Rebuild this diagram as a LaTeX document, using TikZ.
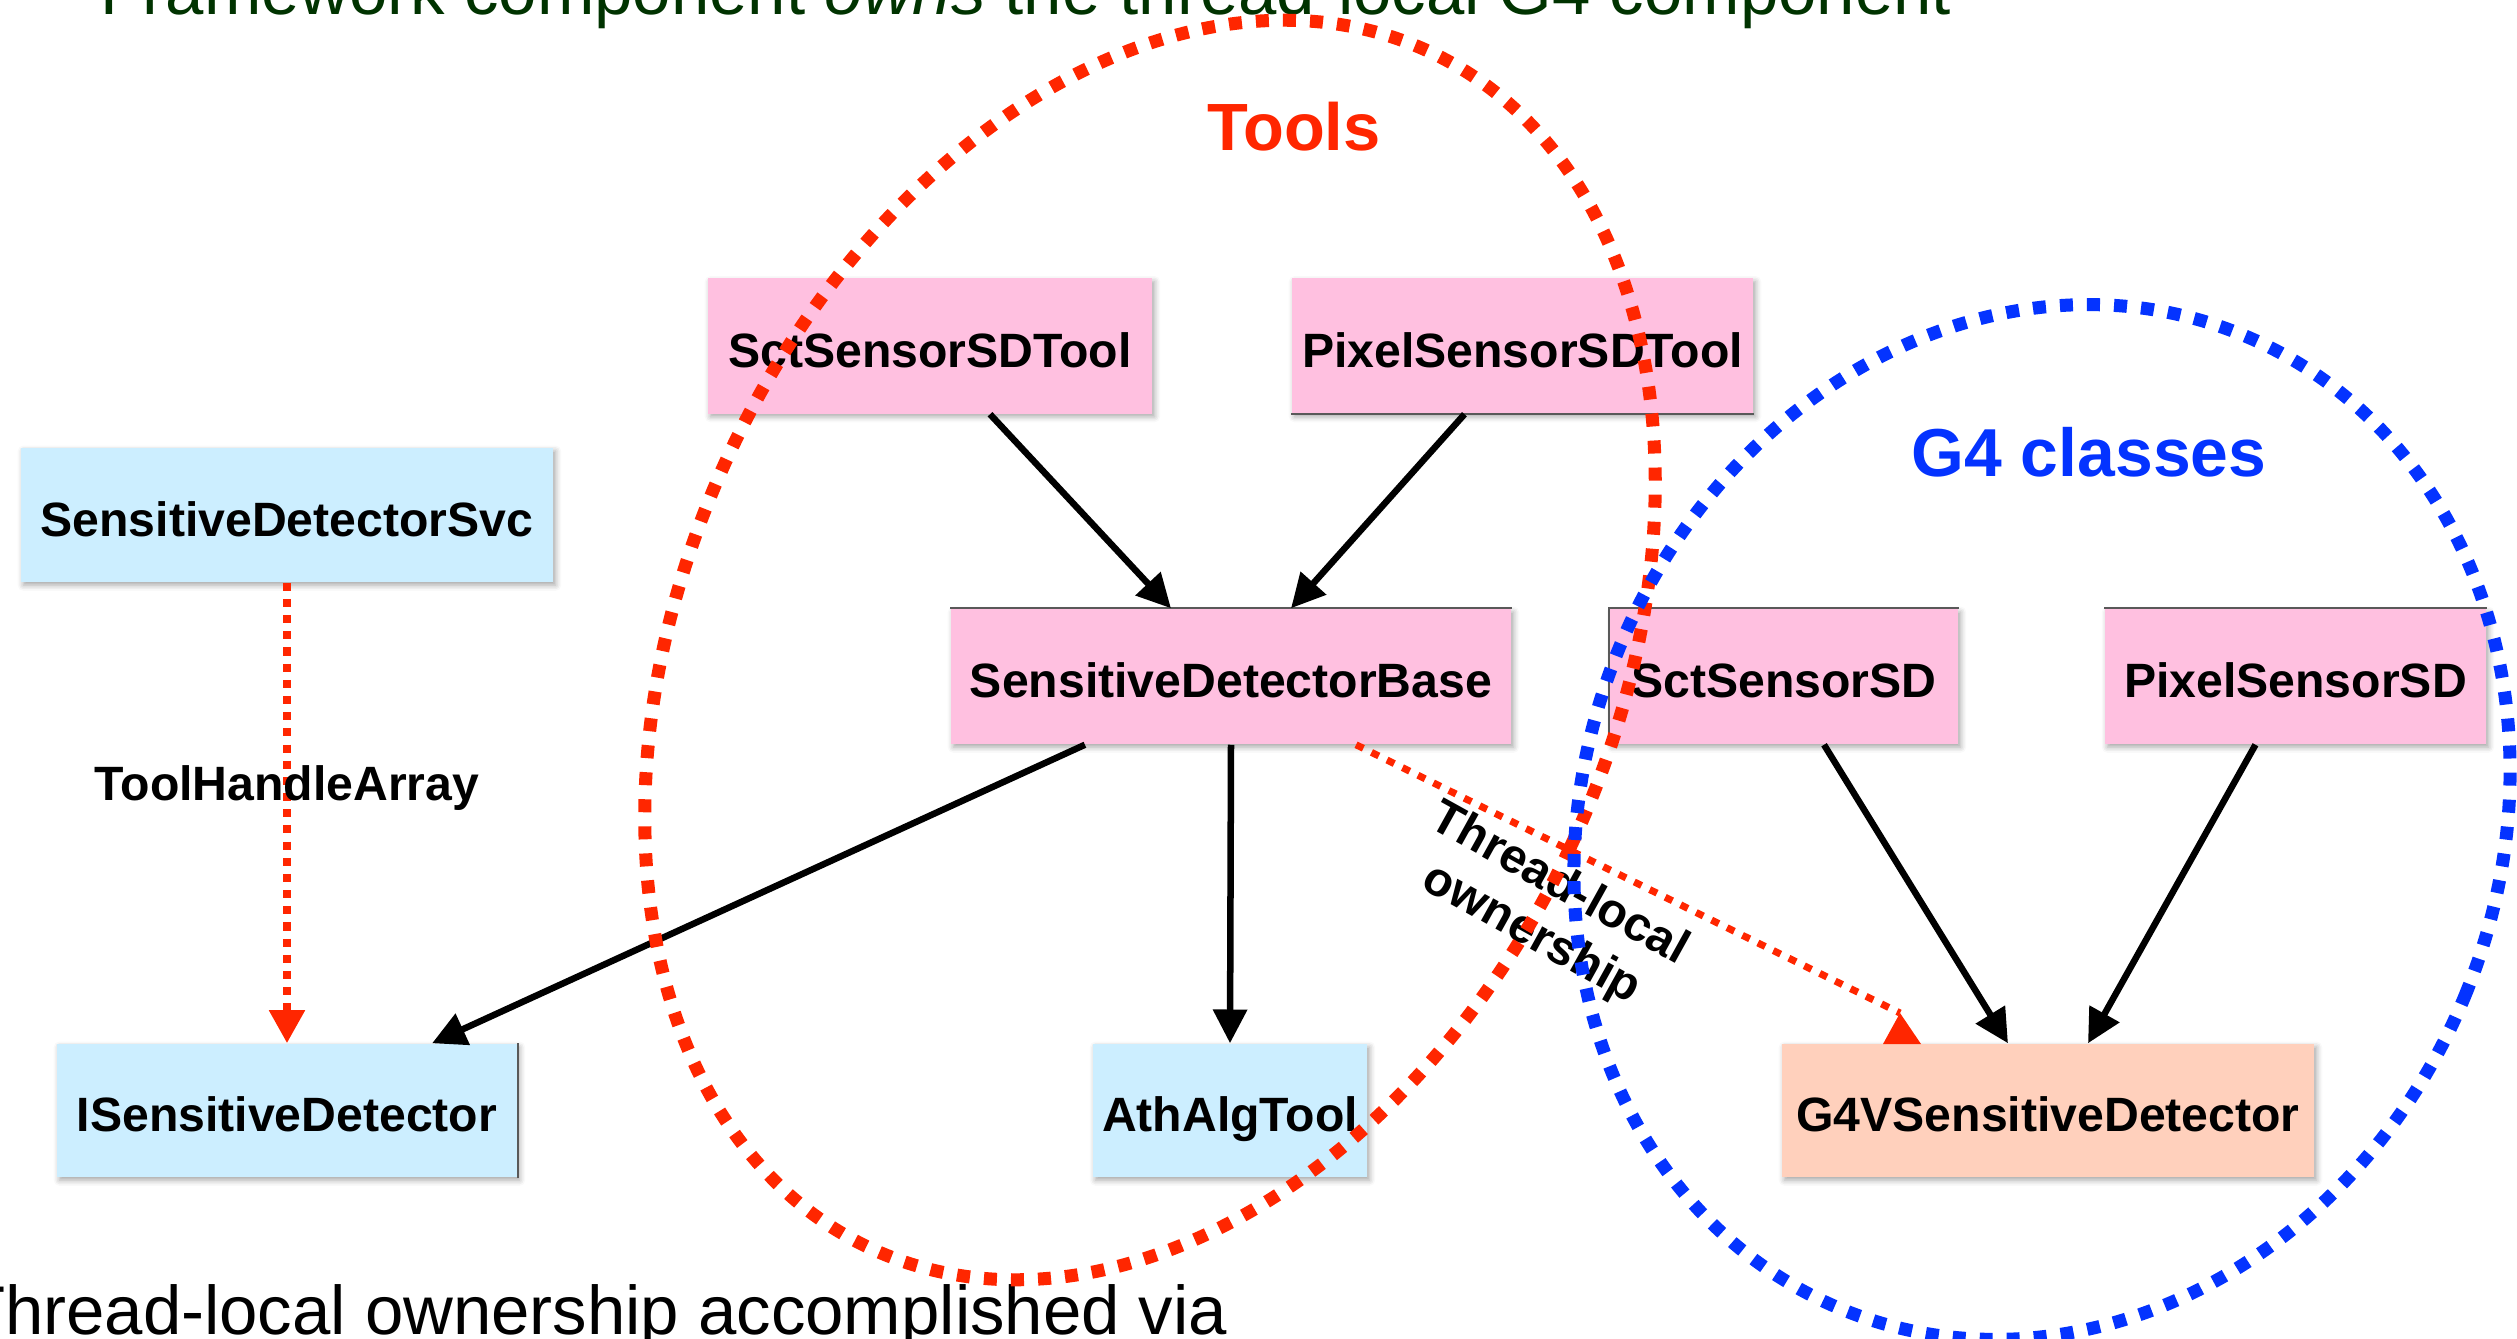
\documentclass[tikz,border=0pt]{standalone}
\usepackage{fontspec}
\setmainfont{Liberation Sans}
\usetikzlibrary{arrows.meta,shadows.blur}
\definecolor{pinkbox}{RGB}{255,192,224}
\definecolor{bluebox}{RGB}{204,238,255}
\definecolor{peachbox}{RGB}{255,208,188}
\definecolor{ared}{RGB}{255,38,0}
\definecolor{ablue}{RGB}{4,51,255}
\definecolor{dgreen}{RGB}{0,51,0}
\begin{document}
\begin{tikzpicture}[x=0.01cm,y=-0.01cm,
  box/.style={inner sep=0pt, minimum height=1.35cm, text height=12pt, text depth=0pt,
    font=\fontsize{13.7}{16}\selectfont\bfseries,
    blur shadow={shadow xshift=0.7pt, shadow yshift=-0.9pt, shadow blur radius=1.6pt, shadow opacity=35}},
  pinkb/.style={box, fill=pinkbox},
  blueb/.style={box, fill=bluebox},
  peachb/.style={box, fill=peachbox},
  blk/.style={line width=1.85pt, -{Triangle[length=9.6pt,width=9.4pt]}},
  rdot/.style={ared, line width=2.2pt, dash pattern=on 2.3pt off 2.3pt},
  ell/.style={line width=3.7pt, dash pattern=on 3.7pt off 4pt},
  edgeline/.style={line width=0.5pt, black!65},
  lbl/.style={font=\fontsize{13.7}{16.2}\selectfont\bfseries, inner sep=0pt},
  big/.style={font=\fontsize{19.6}{22}\selectfont, inner sep=0pt}
]
\useasboundingbox (0,0) rectangle (2517,1339);

% headline texts
\node[big, text=dgreen, anchor=base west] (title) at (100,14) {Framework component \textit{owns} the thread-local G4 component};
\node[big, anchor=base east] (foot) at (1228,1334) {Thread-local ownership accomplished via};

% group titles
\node[font=\fontsize{19}{22}\selectfont\bfseries, text=ared, anchor=base, inner sep=0pt] (tools) at (1294,150) {Tools};
\node[font=\fontsize{19.3}{22}\selectfont\bfseries, text=ablue, anchor=base, inner sep=0pt] (g4c) at (2089,476) {G4 classes};

% boxes
\node[pinkb, minimum width=4.44cm] (stool) at (930,346) {SctSensorSDTool};
\node[pinkb, minimum width=4.61cm] (ptool) at (1522.5,346) {PixelSensorSDTool};
\node[blueb, minimum width=5.32cm, minimum height=1.34cm] (svc) at (287,515) {SensitiveDetectorSvc};
\node[pinkb, minimum width=5.60cm] (sdb) at (1231,676.5) {SensitiveDetectorBase};
\node[pinkb, minimum width=3.48cm] (sctsd) at (1784,676.5) {SctSensorSD};
\node[pinkb, minimum width=3.81cm] (pixsd) at (2295.5,676.5) {PixelSensorSD};
\node[blueb, minimum width=4.60cm, minimum height=1.33cm] (isd) at (287,1110.5) {ISensitiveDetector};
\node[blueb, minimum width=2.74cm, minimum height=1.33cm] (ath) at (1230,1110.5) {AthAlgTool};
\node[peachb, minimum width=5.32cm, minimum height=1.33cm] (g4v) at (2048,1110.5) {G4VSensitiveDetector};

% thin edges seen on some boxes
\draw[edgeline] (sdb.north west) -- (sdb.north east);
\draw[edgeline] (sctsd.south west) -- (sctsd.north west) -- (sctsd.north east);
\draw[edgeline] (pixsd.north west) -- (pixsd.north east);
\draw[edgeline] (ptool.south west) -- (ptool.south east);
\draw[edgeline] (isd.north east) -- (isd.south east);

% black inheritance arrows
\draw[blk] ([xshift=0.6cm]stool.south) -- ([xshift=-0.6cm]sdb.north);
\draw[blk] ([xshift=-0.58cm]ptool.south) -- ([xshift=0.6cm]sdb.north);
\draw[blk] ([xshift=-1.46cm]sdb.south) -- ([xshift=1.45cm]isd.north);
\draw[blk] (sdb.south) -- (ath.north);
\draw[blk] ([xshift=0.4cm]sctsd.south) -- ([xshift=-0.4cm]g4v.north);
\draw[blk] ([xshift=-0.4cm]pixsd.south) -- ([xshift=0.4cm]g4v.north);

% ToolHandleArray
\draw[rdot, -{Triangle[length=9.4pt,width=9.7pt]}] (svc.south) -- (isd.north)
  node[pos=0.445, lbl, text=black] (tha) {ToolHandleArray};

% thread-local ownership
\coordinate (tlend) at (1900,1013);
\draw[rdot, line width=2pt, dash pattern=on 2.3pt off 2.6pt] ([xshift=1.25cm]sdb.south) -- (tlend);
\fill[ared] (1883,1044) -- (tlend) -- (1921,1044) -- cycle;
\node[lbl, rotate=-29, align=center] (tlo) at (1545,910) {Thread-local\\ownership};

% group ellipses
\draw[ell, ared, rotate around={-25.1:(1150,650)}] (1150,650) ellipse [x radius=4.64cm, y radius=6.60cm];
\draw[ell, ablue, rotate around={-22.4:(2042,822)}] (2042,822) ellipse [x radius=4.57cm, y radius=5.265cm];
\end{tikzpicture}
\end{document}
